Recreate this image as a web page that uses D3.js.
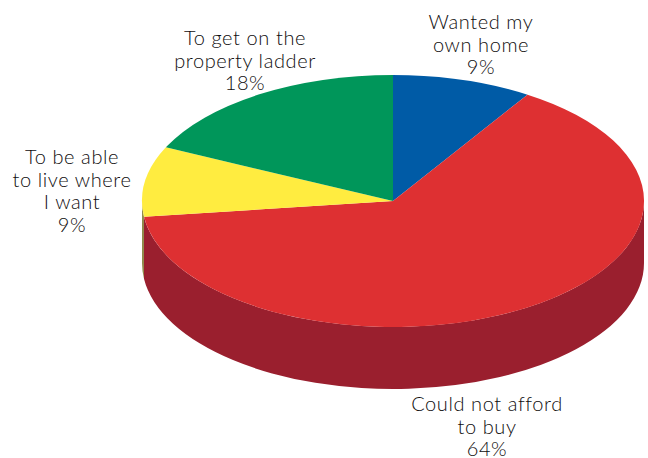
<!DOCTYPE html>
<html>
<head>
<meta charset="utf-8">
<style>
html,body{margin:0;padding:0;background:#fff}
svg{display:block}
text{font-family:"Lato",sans-serif;font-size:20px;letter-spacing:0.6px;fill:#0f0d0e;text-anchor:middle;font-weight:300}
</style>
<script src="https://cdn.jsdelivr.net/npm/d3@7"></script>
</head>
<body>
<svg id="chart" width="648" height="458"></svg>
<script>
// Why respondents bought: shares in percent, clockwise from twelve o'clock
const categories = ["Wanted my own home", "Could not afford to buy", "To be able to live where I want", "To get on the property ladder"];
const shares = [9, 64, 9, 18];
const topColours = ["#005ba6", "#de3032", "#ffec40", "#00965a"];
const wallColours = ["#00396a", "#9a1f2e", "#8f8a4a", "#005c38"];
const labelLines = [
  ["Wanted my", "own home", "9%"],
  ["Could not afford", "to buy", "64%"],
  ["To be able", "to live where", "I want", "9%"],
  ["To get on the", "property ladder", "18%"]
];
const labelAnchors = [[481, 29], [487, 411], [72, 164], [245, 45]];

const centre = {x: 393, y: 201};
const radiusX = 251, radiusY = 126, depth = 62, lineGap = 22.5;

const svg = d3.select("#chart");
const slices = d3.pie().sort(null).value(d => d)(shares);

// Position on the tilted rim for an angle measured clockwise from the top
const rimX = d3.scaleLinear().domain([-1, 1]).range([centre.x - radiusX, centre.x + radiusX]);
const rimY = d3.scaleLinear().domain([-1, 1]).range([centre.y - radiusY, centre.y + radiusY]);
const rim = a => [rimX(Math.sin(a)), rimY(-Math.cos(a))];

// Side wall: only the front half of the rim (90deg to 270deg) faces the viewer
function wallPath(s) {
  const a0 = Math.max(s.startAngle, Math.PI / 2);
  const a1 = Math.min(s.endAngle, Math.PI * 1.5);
  if (a1 <= a0) return null;
  const [x0, y0] = rim(a0), [x1, y1] = rim(a1);
  return `M${x0},${y0}A${radiusX},${radiusY} 0 0 1 ${x1},${y1}` +
         `L${x1},${y1 + depth}A${radiusX},${radiusY} 0 0 0 ${x0},${y0 + depth}Z`;
}

svg.append("g").selectAll("path")
  .data(slices)
  .join("path")
  .attr("d", wallPath)
  .attr("fill", (d, i) => wallColours[i]);

// Top face: a unit circle pie squashed into the ellipse
const arc = d3.arc().innerRadius(0).outerRadius(1);
svg.append("g")
  .attr("transform", `translate(${centre.x},${centre.y}) scale(${radiusX},${radiusY})`)
  .selectAll("path")
  .data(slices)
  .join("path")
  .attr("d", arc)
  .attr("fill", (d, i) => topColours[i]);

const labels = svg.append("g").selectAll("text")
  .data(labelLines)
  .join("text")
  .attr("transform", (d, i) => `translate(${labelAnchors[i][0]},${labelAnchors[i][1]})`);
labels.selectAll("tspan")
  .data(d => d)
  .join("tspan")
  .attr("x", 0)
  .attr("y", (d, i) => i * lineGap)
  .text(d => d);
</script>
</body>
</html>
